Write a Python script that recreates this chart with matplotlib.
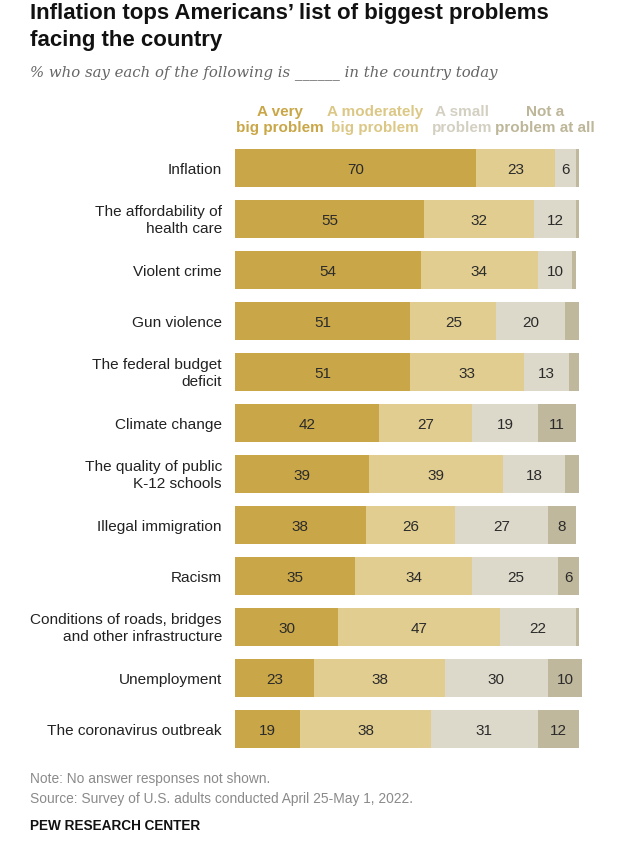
import matplotlib
matplotlib.use("Agg")
import matplotlib.pyplot as plt

COND = "Liberation Sans"
SANS = "Liberation Sans"
SERIF = "DejaVu Serif"

categories = ["Inflation", "The affordability of\nhealth care", "Violent crime", "Gun violence",
              "The federal budget\ndeficit", "Climate change", "The quality of public\nK-12 schools",
              "Illegal immigration", "Racism", "Conditions of roads, bridges\nand other infrastructure",
              "Unemployment", "The coronavirus outbreak"]
very_big = [70, 55, 54, 51, 51, 42, 39, 38, 35, 30, 23, 19]
moderately_big = [23, 32, 34, 25, 33, 27, 39, 26, 34, 47, 38, 38]
small = [6, 12, 10, 20, 13, 19, 18, 27, 25, 22, 30, 31]
not_at_all = [1, 1, 1, 4, 3, 11, 4, 8, 6, 1, 10, 12]
series_names = ["A very\nbig problem", "A moderately\nbig problem", "A small\nproblem", "Not a\nproblem at all"]

colors = ["#C9A647", "#E1CD90", "#DDD9CA", "#BFB89C"]
legend_colors = ["#C9A647", "#DCC886", "#D3D0C2", "#BDB699"]

W, H = 630, 844
fig = plt.figure(figsize=(W / 100, H / 100), dpi=100)
fig.patch.set_facecolor("white")

x0, scale = 235, 3.44
xmax = 102
top_px, bot_px = 142.5, 754.5
ax = fig.add_axes([x0 / W, 1 - bot_px / H, scale * xmax / W, (bot_px - top_px) / H])
ax.set_xlim(0, xmax)
n = len(categories)
ax.set_ylim(n - 0.5, -0.5)
ax.axis("off")

ys = list(range(n))
data = [very_big, moderately_big, small, not_at_all]
left = [0] * n
for si, vals in enumerate(data):
    ax.barh(ys, vals, left=left, height=0.73, color=colors[si], edgecolor="none")
    for i, v in enumerate(vals):
        if v >= 5:
            ax.text(left[i] + v / 2, i + 0.03, str(v), ha="center", va="center",
                    fontsize=11, color="#2b2b2b", family=SANS)
    left = [l + v for l, v in zip(left, vals)]

for i, c in enumerate(categories):
    ax.text(-3.8, i + 0.03, c, ha="right", va="center", fontsize=11.1, color="#222222",
            family=SANS, multialignment="right", linespacing=1.22)

# legend headers
hdr_x = [280, 375, 462, 545]
for hx, name, col in zip(hdr_x, series_names, legend_colors):
    fig.text(hx / W, 1 - 120 / H, name, ha="center", va="center", fontsize=11,
             fontweight="bold", color=col, family=COND, linespacing=1.25)

fig.text(30 / W, 1 - 3 / H, "Inflation tops Americans\u2019 list of biggest problems\nfacing the country",
         ha="left", va="top", fontsize=16, fontweight="bold", color="#111111", family=COND,
         linespacing=1.4)
fig.text(30 / W, 1 - 73 / H, "% who say each of the following is ______ in the country today",
         ha="left", va="center", fontsize=10.7, style="italic", color="#666666", family=SERIF)

fig.text(30 / W, 1 - 779 / H, "Note: No answer responses not shown.", ha="left", va="center",
         fontsize=9.9, color="#8a8a8a", family=COND)
fig.text(30 / W, 1 - 799 / H, "Source: Survey of U.S. adults conducted April 25-May 1, 2022.",
         ha="left", va="center", fontsize=9.9, color="#8a8a8a", family=COND)
fig.text(30 / W, 1 - 826 / H, "PEW RESEARCH CENTER", ha="left", va="center",
         fontsize=9.8, fontweight="bold", color="#111111", family=COND)

fig.savefig("out.png", dpi=100)
